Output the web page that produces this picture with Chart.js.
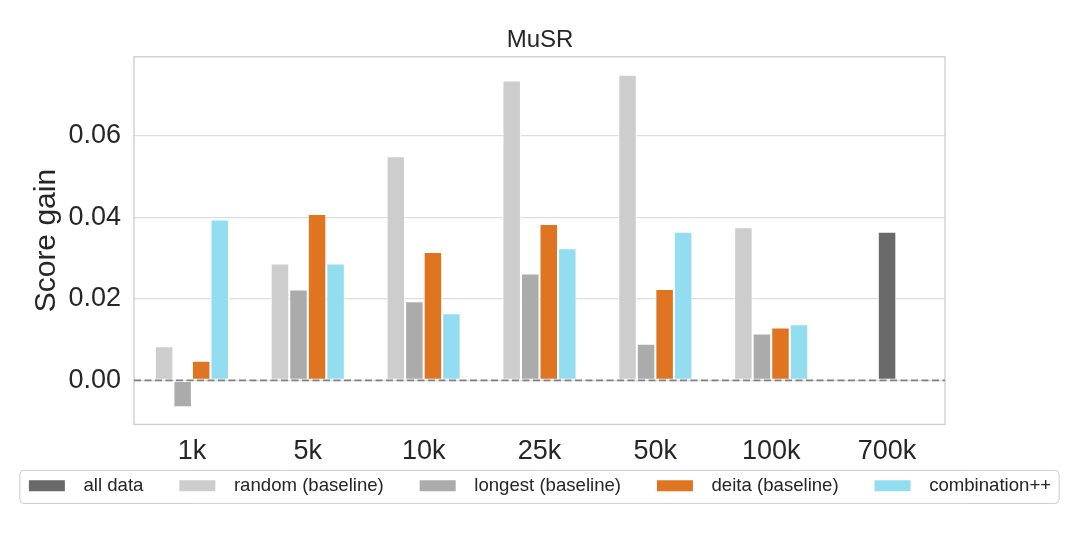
<!DOCTYPE html>
<html>
<head>
<meta charset="utf-8">
<script src="https://cdn.jsdelivr.net/npm/chart.js@4.4.1/dist/chart.umd.min.js"></script>
<style>
  html, body { margin: 0; padding: 0; background: #fff; }
  #wrap { width: 1080px; height: 540px; }
</style>
</head>
<body>
<div id="wrap"><canvas id="chart"></canvas></div>
<script>
const categories = ['1k', '5k', '10k', '25k', '50k', '100k', '700k'];
const seriesNames = ['all data', 'random (baseline)', 'longest (baseline)', 'deita (baseline)', 'combination++'];
const allData     = [null, null, null, null, null, null, 0.0365];
const randomBase  = [0.0084, 0.0287, 0.0550, 0.0736, 0.0750, 0.0376, null];
const longestBase = [-0.0066, 0.0223, 0.0194, 0.0262, 0.0090, 0.0115, null];
const deitaBase   = [0.0048, 0.0408, 0.0315, 0.0384, 0.0224, 0.0130, null];
const combination = [0.0395, 0.0287, 0.0165, 0.0324, 0.0365, 0.0138, null];
const yTicks = [0, 0.02, 0.04, 0.06];

const colors = ['#696969', '#cdcdcd', '#ababab', '#df7421', '#92def0'];
const textColor = '#262626';
const fontFamily = '"Liberation Sans", Arial, sans-serif';

// frame round the plot, dashed zero line, box round the legend
const plotFrame = {
	id: 'plotFrame',
	beforeDatasetsDraw(chart) {
		const {ctx, chartArea: a} = chart;
		ctx.save();
		ctx.strokeStyle = '#cccccc';
		ctx.lineWidth = 1.3;
		ctx.strokeRect(a.left, a.top, a.right - a.left, a.bottom - a.top);
		ctx.restore();
	},
	afterDatasetsDraw(chart) {
		const {ctx, chartArea: a} = chart;
		const y0 = chart.scales.y.getPixelForValue(0);
		ctx.save();
		ctx.strokeStyle = '#808080';
		ctx.lineWidth = 1.6;
		ctx.setLineDash([7, 3.5]);
		ctx.beginPath();
		ctx.moveTo(a.left, y0);
		ctx.lineTo(a.right, y0);
		ctx.stroke();
		ctx.restore();
	},
	afterDraw(chart) {
		const boxes = chart.legend.legendHitBoxes;
		if (!boxes || !boxes.length) return;
		const first = boxes[0], last = boxes[boxes.length - 1];
		const left = first.left - 9, right = last.left + last.width + 8;
		const top = first.top - 6, h = 33;
		const {ctx} = chart;
		ctx.save();
		ctx.strokeStyle = '#cccccc';
		ctx.lineWidth = 1;
		ctx.beginPath();
		ctx.roundRect(left, top, right - left, h, 4);
		ctx.stroke();
		ctx.restore();
	}
};

const values = [allData, randomBase, longestBase, deitaBase, combination];

new Chart(document.getElementById('chart'), {
	type: 'bar',
	data: {
		labels: categories,
		datasets: seriesNames.map((name, i) => ({
			label: name,
			data: values[i],
			backgroundColor: colors[i],
			borderColor: '#ffffff',
			borderWidth: 1,
			borderSkipped: false,
			skipNull: true,
			categoryPercentage: 0.64,
			barPercentage: 1.0,
			maxBarThickness: 18.5
		}))
	},
	options: {
		responsive: true,
		maintainAspectRatio: false,
		animation: false,
		layout: { padding: { bottom: 35 } },
		plugins: {
			title: {
				display: true,
				text: 'MuSR',
				color: textColor,
				font: { family: fontFamily, size: 24, weight: 'normal' },
				padding: { top: 26, bottom: 2 }
			},
			legend: {
				position: 'bottom',
				labels: {
					color: textColor,
					font: { family: fontFamily, size: 18.6 },
					boxWidth: 36,
					boxHeight: 11,
					padding: 8,
					generateLabels(chart) {
						const items = Chart.defaults.plugins.legend.labels.generateLabels(chart);
						items.forEach((it, i) => {
							it.lineWidth = 0;
							it.text = '\u2002' + it.text + (i < items.length - 1 ? '\u2003\u2002' : '');
						});
						return items;
					}
				}
			},
			tooltip: { enabled: false }
		},
		scales: {
			x: {
				grid: { display: false },
				border: { display: false },
				ticks: {
					color: textColor,
					font: { family: fontFamily, size: 27 },
					padding: 3
				},
				afterFit(s) { s.height = 44; }
			},
			y: {
				min: -0.0108,
				max: 0.0794,
				grid: { color: '#dddddd', lineWidth: 1.3, drawTicks: false },
				border: { display: false },
				ticks: {
					color: textColor,
					font: { family: fontFamily, size: 27 },
					padding: 13,
					callback: v => v.toFixed(2)
				},
				afterBuildTicks(s) { s.ticks = yTicks.map(v => ({ value: v })); },
				title: {
					display: true,
					text: 'Score gain',
					color: textColor,
					font: { family: fontFamily, size: 30 },
					padding: { top: 29, bottom: 0 }
				},
				afterFit(s) { s.width = 134; }
			},
			yRight: {
				position: 'right',
				grid: { display: false },
				border: { display: false },
				ticks: { display: false },
				afterFit(s) { s.width = 135; }
			}
		}
	},
	plugins: [plotFrame]
});
</script>
</body>
</html>
